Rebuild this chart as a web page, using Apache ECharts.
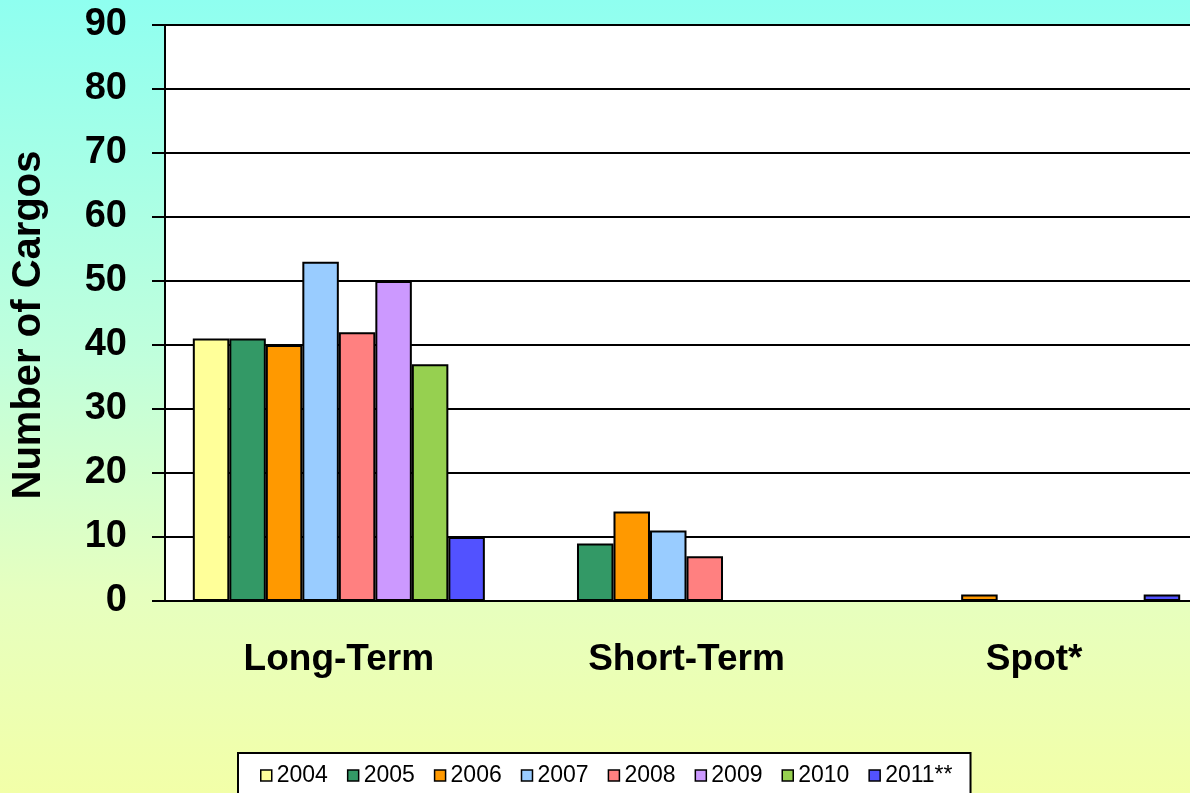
<!DOCTYPE html>
<html>
<head>
<meta charset="utf-8">
<script src="https://cdn.jsdelivr.net/npm/echarts@6/dist/echarts.min.js"></script>
<style>
  html, body { margin: 0; padding: 0; }
  #chart { width: 1190px; height: 793px; }
</style>
</head>
<body>
<div id="chart"></div>
<script>
// cargo counts by contract type, one entry per year
const categories = ['Long-Term', 'Short-Term', 'Spot*']
const years = ['2004', '2005', '2006', '2007', '2008', '2009', '2010', '2011**']
const longTerm = [41, 41, 40, 53, 42, 50, 37, 10]
const shortTerm = [0, 9, 14, 11, 7, 0, 0, 0]
const spot = [0, 0, 1, 0, 0, 0, 0, 1]
const yTicks = [0, 10, 20, 30, 40, 50, 60, 70, 80, 90]
const colors = ['#ffff99', '#339966', '#ff9900', '#99ccff', '#ff8080', '#cc99ff', '#96d050', '#5252ff']

const font = "'Liberation Sans', Arial, sans-serif"

const chart = echarts.init(document.getElementById('chart'))

const series = years.map((y, i) => ({
  name: y,
  type: 'bar',
  data: [longTerm[i], shortTerm[i], spot[i]],
  barGap: '0%',
  barCategoryGap: '16%',
  itemStyle: { color: colors[i], borderColor: '#000', borderWidth: 2 }
}))

chart.setOption({
  animation: false,
  backgroundColor: {
    type: 'linear', x: 0, y: 0, x2: 0, y2: 1,
    colorStops: [
      { offset: 0, color: '#8ffff0' },
      { offset: 0.45, color: '#c0ffdc' },
      { offset: 0.75, color: '#e6ffbf' },
      { offset: 1, color: '#f2ffa8' }
    ]
  },
  textStyle: { fontFamily: font },
  grid: {
    left: 165, top: 25, bottom: 192, right: -18,
    outerBoundsMode: 'none',
    containLabel: false,
    show: true, backgroundColor: '#fff', borderWidth: 0
  },
  legend: {
    left: 238, top: 753,
    backgroundColor: '#fff', borderColor: '#000', borderWidth: 2,
    padding: [11, 18, 20, 22],
    itemWidth: 11, itemHeight: 11, itemGap: 19,
    icon: 'rect',
    itemStyle: { borderColor: '#000', borderWidth: 1.5 },
    textStyle: { fontSize: 23, color: '#000', fontFamily: font }
  },
  xAxis: {
    type: 'category',
    data: categories,
    axisLine: { lineStyle: { color: '#000', width: 2 } },
    axisTick: { length: 11, lineStyle: { color: '#000', width: 2 } },
    axisLabel: { margin: 40, fontSize: 37, fontWeight: 'bold', color: '#000', fontFamily: font }
  },
  yAxis: {
    type: 'value',
    min: yTicks[0], max: yTicks[yTicks.length - 1], interval: 10,
    name: 'Number of Cargos',
    nameLocation: 'middle',
    nameGap: 116,
    nameTextStyle: { fontSize: 40, fontWeight: 'bold', color: '#000', fontFamily: font, padding: [0, 24, 0, 0] },
    axisLine: { show: true, lineStyle: { color: '#000', width: 2 } },
    axisTick: { show: true, length: 13, lineStyle: { color: '#000', width: 2 } },
    axisLabel: { margin: 38, fontSize: 38, fontWeight: 'bold', color: '#000', fontFamily: font },
    splitLine: { lineStyle: { color: '#000', width: 2 } }
  },
  series
})
</script>
</body>
</html>
